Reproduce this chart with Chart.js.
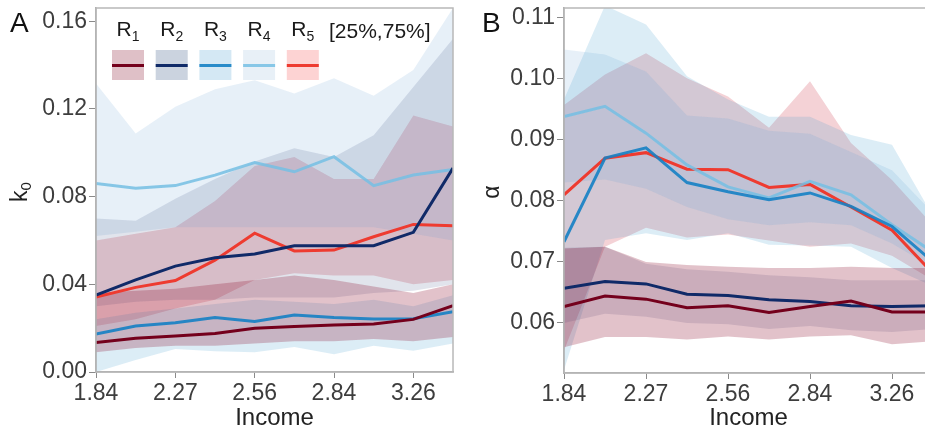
<!DOCTYPE html>
<html>
<head>
<meta charset="utf-8">
<script src="https://cdn.jsdelivr.net/npm/chart.js@4"></script>
<style>
body { margin:0; width:925px; height:433px; overflow:hidden; background:#fff; position:relative; }
#wrapA { position:absolute; left:0; top:0; width:462px; height:433px; }
#wrapB { position:absolute; left:462px; top:0; width:480px; height:433px; }
</style>
</head>
<body>
<div id="wrapA"><canvas id="chartA"></canvas></div>
<div id="wrapB"><canvas id="chartB"></canvas></div>
<script>
const FONT = '"Liberation Sans", Arial, sans-serif';

// x positions (index of income group) that carry a tick label
const xTickPos = [0, 2, 4, 6, 8];
const incomeLabels = ['1.84', '2.27', '2.56', '2.84', '3.26'];
const seriesSubs = ['1', '2', '3', '4', '5'];
const lineColors = ['#74001c', '#102a68', 'rgba(21,129,196,0.9)', 'rgba(118,192,228,0.85)', '#ee3b30'];
const bandColors = ['rgba(133,0,35,0.24)', 'rgba(20,50,110,0.13)', 'rgba(40,140,200,0.16)',
                    'rgba(120,170,215,0.18)', 'rgba(200,30,50,0.2)'];
const swatchColors = ['#dfc0c7', '#cbd3df', '#d4e8f4', '#e8f0f7', '#fdd3d3'];

// Panel A: k0 medians
const aR1 = [0.0135, 0.0154, 0.0164, 0.0176, 0.0199, 0.0207, 0.0214, 0.0219, 0.0240, 0.0302];
const aR2 = [0.0351, 0.0420, 0.0483, 0.0521, 0.0538, 0.0576, 0.0576, 0.0576, 0.0637, 0.0930];
const aR3 = [0.0173, 0.0210, 0.0225, 0.0248, 0.0230, 0.0260, 0.0248, 0.0242, 0.0243, 0.0275];
const aR4 = [0.0860, 0.0838, 0.0850, 0.0898, 0.0955, 0.0913, 0.0982, 0.0850, 0.0898, 0.0924];
const aR5 = [0.0342, 0.0386, 0.0417, 0.0510, 0.0633, 0.0552, 0.0556, 0.0617, 0.0673, 0.0667];
// Panel A: 25% / 75% quantiles
const aR1lo = [0.009, 0.011, 0.012, 0.012, 0.013, 0.014, 0.014, 0.015, 0.014, 0.016];
const aR1hi = [0.036, 0.037, 0.038, 0.040, 0.042, 0.044, 0.042, 0.039, 0.036, 0.040];
const aR2lo = [0.030, 0.032, 0.033, 0.033, 0.034, 0.034, 0.034, 0.036, 0.037, 0.040];
const aR2hi = [0.070, 0.069, 0.079, 0.088, 0.096, 0.102, 0.098, 0.108, 0.130, 0.152];
const aR3lo = [0.000, 0.0055, 0.0105, 0.0095, 0.009, 0.0114, 0.0081, 0.012, 0.0097, 0.013];
const aR3hi = [0.024, 0.027, 0.029, 0.031, 0.033, 0.032, 0.031, 0.033, 0.030, 0.035];
const aR4lo = [0.062, 0.064, 0.066, 0.066, 0.066, 0.066, 0.066, 0.066, 0.063, 0.060];
const aR4hi = [0.1316, 0.1088, 0.121, 0.129, 0.133, 0.127, 0.134, 0.126, 0.1377, 0.166];
const aR5lo = [0.021, 0.024, 0.029, 0.033, 0.042, 0.045, 0.044, 0.044, 0.040, 0.042];
const aR5hi = [0.060, 0.063, 0.066, 0.078, 0.094, 0.098, 0.088, 0.088, 0.117, 0.112];
const aYTicks = [0.00, 0.04, 0.08, 0.12, 0.16];

// Panel B: alpha medians
const bR1 = [0.0627, 0.0644, 0.0639, 0.0625, 0.0628, 0.0617, 0.0627, 0.0636, 0.0618, 0.0618];
const bR2 = [0.0657, 0.0668, 0.0664, 0.0647, 0.0645, 0.0638, 0.0635, 0.0628, 0.0627, 0.0628];
const bR3 = [0.0733, 0.0870, 0.0887, 0.0830, 0.0815, 0.0802, 0.0813, 0.0791, 0.0758, 0.0700];
const bR4 = [0.0938, 0.0955, 0.0911, 0.0859, 0.0823, 0.0805, 0.0832, 0.0810, 0.0761, 0.0716];
const bR5 = [0.0810, 0.0870, 0.0879, 0.0852, 0.0851, 0.0822, 0.0827, 0.0790, 0.0752, 0.0681];
// Panel B: 25% / 75% quantiles
const bR1lo = [0.0560, 0.0577, 0.0577, 0.0573, 0.0578, 0.0573, 0.0578, 0.0580, 0.0565, 0.0570];
const bR1hi = [0.0722, 0.0725, 0.0700, 0.0695, 0.0692, 0.0690, 0.0690, 0.0692, 0.0690, 0.0690];
const bR2lo = [0.0600, 0.0615, 0.0610, 0.0600, 0.0598, 0.0590, 0.0595, 0.0588, 0.0585, 0.0590];
const bR2hi = [0.0723, 0.0725, 0.0697, 0.0688, 0.0684, 0.0678, 0.0675, 0.0670, 0.0670, 0.0670];
const bR3lo = [0.0523, 0.0736, 0.0747, 0.0736, 0.0747, 0.0728, 0.0727, 0.0725, 0.0690, 0.0660];
const bR3hi = [0.0966, 0.1120, 0.1089, 0.1004, 0.0966, 0.0938, 0.0938, 0.0908, 0.0892, 0.0775];
const bR4lo = [0.0830, 0.0835, 0.0820, 0.0790, 0.0770, 0.0760, 0.0765, 0.0760, 0.0730, 0.0690];
const bR4hi = [0.1048, 0.1040, 0.1012, 0.0940, 0.0935, 0.0915, 0.0910, 0.0880, 0.0850, 0.0780];
const bR5lo = [0.0555, 0.0725, 0.0756, 0.0740, 0.0745, 0.0735, 0.0725, 0.0730, 0.0710, 0.0670];
const bR5hi = [0.0957, 0.1007, 0.1042, 0.1001, 0.0971, 0.0920, 0.0996, 0.0895, 0.0834, 0.0760];
const bYTicks = [0.06, 0.07, 0.08, 0.09, 0.10, 0.11];

function toPoints(arr) {
    return arr.map(function(v, k) { return { x: k, y: v }; });
}

// quantile bands underneath, median lines on top (lower order = drawn later)
function buildDatasets(medians, lows, highs) {
    let ds = [];
    medians.forEach(function(m, i) {
        ds.push({ data: toPoints(m), borderColor: lineColors[i], borderWidth: 3,
                  pointRadius: 0, fill: false, order: 0 });
    });
    lows.forEach(function(lo, i) {
        let loIdx = ds.length;
        ds.push({ data: toPoints(lo), borderWidth: 0, borderColor: 'rgba(0,0,0,0)',
                  pointRadius: 0, fill: false, order: 5 });
        ds.push({ data: toPoints(highs[i]), borderWidth: 0, borderColor: 'rgba(0,0,0,0)',
                  pointRadius: 0, backgroundColor: bandColors[i], fill: { target: loIdx }, order: 5 });
    });
    return ds;
}

function makeOptions(cfg) {
    return {
        responsive: true,
        maintainAspectRatio: false,
        animation: false,
        layout: { padding: { left: 0, top: 8, right: 9, bottom: 0 } },
        elements: { line: { tension: 0 } },
        plugins: { legend: { display: false }, tooltip: { enabled: false } },
        scales: {
            x: {
                type: 'linear', min: 0, max: 9,
                afterBuildTicks: function(s) { s.ticks = xTickPos.map(function(v) { return { value: v }; }); },
                afterFit: function(s) { s.height = cfg.xHeight; s.paddingLeft = 0; s.paddingRight = 0; },
                ticks: {
                    callback: function(v) { return incomeLabels[xTickPos.indexOf(v)]; },
                    font: { family: FONT, size: 23 }, color: '#3d3d3d', padding: 2,
                    maxRotation: 0, autoSkip: false
                },
                grid: { drawOnChartArea: false, drawTicks: true, tickLength: 6, color: '#8a8a8a' },
                border: { display: true, color: '#a8a8a8', width: 1.5 }
            },
            y: {
                min: cfg.yMin, max: cfg.yMax,
                afterBuildTicks: function(s) { s.ticks = cfg.yTicks.map(function(v) { return { value: v }; }); },
                afterFit: function(s) { s.width = cfg.yWidth; s.paddingTop = 0; s.paddingBottom = 0; },
                ticks: {
                    callback: function(v) { return v.toFixed(2); },
                    font: { family: FONT, size: 23 }, color: '#3d3d3d', padding: 2
                },
                grid: { drawOnChartArea: false, drawTicks: true, tickLength: 7, color: '#8a8a8a' },
                border: { display: true, color: '#a8a8a8', width: 1.5 }
            }
        }
    };
}

// frame, panel letter, axis titles (and legend for panel A)
function decorPlugin(cfg) {
    return {
        id: 'decor' + cfg.letter,
        afterDraw: function(chart) {
            let ctx = chart.ctx;
            let a = chart.chartArea;
            ctx.save();
            ctx.strokeStyle = '#b8b8b8';
            ctx.lineWidth = 1.5;
            ctx.strokeRect(a.left, a.top, a.right - a.left, a.bottom - a.top);

            ctx.fillStyle = '#111';
            ctx.font = '28px ' + FONT;
            ctx.textAlign = 'left';
            ctx.textBaseline = 'alphabetic';
            ctx.fillText(cfg.letter, cfg.letterX, 32);

            ctx.fillStyle = '#222';
            ctx.font = '24px ' + FONT;
            ctx.textAlign = 'center';
            ctx.fillText('Income', (a.left + a.right) / 2, 425);

            // rotated y title
            ctx.save();
            ctx.translate(cfg.titleX, 192);
            ctx.rotate(-Math.PI / 2);
            ctx.textAlign = 'left';
            ctx.font = '23px ' + FONT;
            let w1 = ctx.measureText(cfg.yTitle).width;
            ctx.font = '15px ' + FONT;
            let w2 = cfg.yTitleSub ? ctx.measureText(cfg.yTitleSub).width : 0;
            let x0 = -(w1 + w2) / 2;
            ctx.font = '23px ' + FONT;
            ctx.fillText(cfg.yTitle, x0, 0);
            if (cfg.yTitleSub) {
                ctx.font = '15px ' + FONT;
                ctx.fillText(cfg.yTitleSub, x0 + w1, 4);
            }
            ctx.restore();

            if (cfg.legend) {
                seriesSubs.forEach(function(sub, i) {
                    let cx = 128 + i * 43.7;
                    ctx.fillStyle = swatchColors[i];
                    ctx.fillRect(cx - 16, 50, 32, 30);
                    ctx.fillStyle = lineColors[i];
                    ctx.fillRect(cx - 16, 64, 32, 3);
                    ctx.fillStyle = '#1a1a1a';
                    ctx.font = '21px ' + FONT;
                    let wr = ctx.measureText('R').width;
                    ctx.font = '14px ' + FONT;
                    let ws = ctx.measureText(sub).width;
                    let lx = cx - (wr + ws) / 2;
                    ctx.textAlign = 'left';
                    ctx.font = '21px ' + FONT;
                    ctx.fillText('R', lx, 36);
                    ctx.font = '14px ' + FONT;
                    ctx.fillText(sub, lx + wr, 41);
                });
                ctx.font = '21px ' + FONT;
                ctx.textAlign = 'left';
                ctx.fillText('[25%,75%]', 329, 38);
            }
            ctx.restore();
        }
    };
}

new Chart(document.getElementById('chartA'), {
    type: 'line',
    data: { datasets: buildDatasets([aR1, aR2, aR3, aR4, aR5],
                                    [aR1lo, aR2lo, aR3lo, aR4lo, aR5lo],
                                    [aR1hi, aR2hi, aR3hi, aR4hi, aR5hi]) },
    options: makeOptions({ yMin: 0, yMax: 0.166, yTicks: aYTicks, yWidth: 96, xHeight: 61 }),
    plugins: [decorPlugin({ letter: 'A', letterX: 10, titleX: 27, yTitle: 'k', yTitleSub: '0', legend: true })]
});

new Chart(document.getElementById('chartB'), {
    type: 'line',
    data: { datasets: buildDatasets([bR1, bR2, bR3, bR4, bR5],
                                    [bR1lo, bR2lo, bR3lo, bR4lo, bR5lo],
                                    [bR1hi, bR2hi, bR3hi, bR4hi, bR5hi]) },
    options: makeOptions({ yMin: 0.0518, yMax: 0.1116, yTicks: bYTicks, yWidth: 102, xHeight: 60 }),
    plugins: [decorPlugin({ letter: 'B', letterX: 20, titleX: 37, yTitle: '\u03b1', yTitleSub: '', legend: false })]
});
</script>
</body>
</html>
